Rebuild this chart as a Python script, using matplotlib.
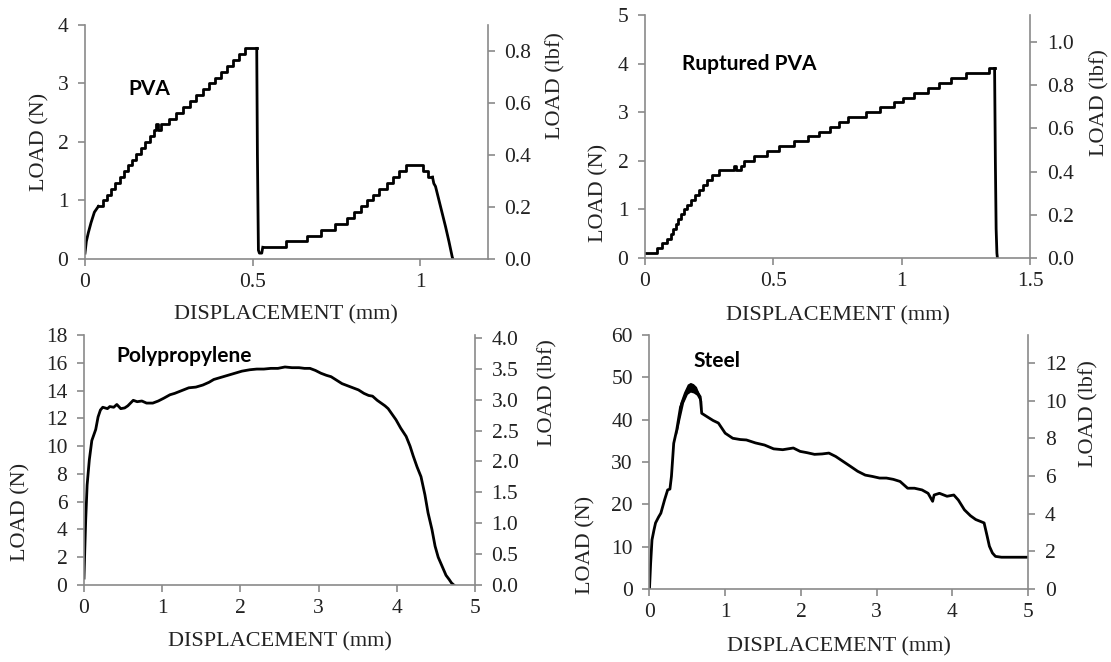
import matplotlib
matplotlib.use("Agg")
from matplotlib import pyplot as plt
from matplotlib.ticker import FuncFormatter

N_PER_LBF = 4.448
LINE_C = "black"
SPINE_C = "#8a8a8a"
TEXT_C = "#222222"

# ---- PVA (steps) ----
pva_ramp_x = [0.0, 0.004, 0.010, 0.018, 0.028, 0.040]
pva_ramp_y = [0.1, 0.30, 0.45, 0.62, 0.80, 0.90]
pva_stair1_x = [0.040, 0.054, 0.066, 0.078, 0.090, 0.103, 0.115, 0.128, 0.140, 0.153,
                0.166, 0.180, 0.193, 0.206, 0.213, 0.218, 0.228, 0.250, 0.272, 0.292,
                0.312, 0.332, 0.352, 0.370, 0.388, 0.406, 0.424, 0.442, 0.460, 0.478, 0.512]
pva_stair1_y = [0.9, 1.0, 1.1, 1.2, 1.3, 1.4, 1.5, 1.6, 1.7, 1.8,
                1.9, 2.0, 2.1, 2.2, 2.3, 2.2, 2.3, 2.4, 2.5, 2.6,
                2.7, 2.8, 2.9, 3.0, 3.1, 3.2, 3.3, 3.4, 3.5, 3.6, 3.6]
pva_drop_x = [0.512, 0.514, 0.517, 0.520, 0.527, 0.530]
pva_drop_y = [3.6, 1.8, 0.15, 0.10, 0.10, 0.20]
pva_stair2_x = [0.530, 0.600, 0.661, 0.703, 0.746, 0.780, 0.803, 0.822, 0.842, 0.859,
                0.877, 0.900, 0.917, 0.935, 0.956, 1.009, 1.024, 1.036]
pva_stair2_y = [0.2, 0.3, 0.4, 0.5, 0.6, 0.7, 0.8, 0.9, 1.0, 1.1,
                1.2, 1.3, 1.4, 1.5, 1.6, 1.5, 1.4, 1.4]
pva_tail_x = [1.036, 1.040, 1.045, 1.055, 1.065, 1.075, 1.085, 1.095, 1.097]
pva_tail_y = [1.4, 1.29, 1.24, 1.01, 0.78, 0.55, 0.30, 0.03, 0.0]

# ---- Ruptured PVA ----
rup_stair_x = [0.0, 0.045, 0.065, 0.085, 0.100, 0.110, 0.120, 0.130, 0.140, 0.150,
               0.165, 0.180, 0.195, 0.210, 0.225, 0.240, 0.260, 0.290, 0.345, 0.355,
               0.375, 0.385, 0.425, 0.475, 0.523, 0.579, 0.635, 0.677, 0.719, 0.754,
               0.789, 0.859, 0.915, 0.971, 1.005, 1.047, 1.104, 1.145, 1.194, 1.250,
               1.341, 1.362]
rup_stair_y = [0.1, 0.2, 0.3, 0.4, 0.5, 0.6, 0.7, 0.8, 0.9, 1.0,
               1.1, 1.2, 1.3, 1.4, 1.5, 1.6, 1.7, 1.8, 1.9, 1.8,
               1.9, 2.0, 2.1, 2.2, 2.3, 2.4, 2.5, 2.6, 2.7, 2.8,
               2.9, 3.0, 3.1, 3.2, 3.3, 3.4, 3.5, 3.6, 3.7, 3.8,
               3.9, 3.9]
rup_drop_x = [1.362, 1.365, 1.368, 1.371, 1.373]
rup_drop_y = [3.9, 2.0, 0.6, 0.1, 0.0]

# ---- Polypropylene ----
pp_x = [0.0, 0.01, 0.022, 0.04, 0.068, 0.10, 0.15, 0.18, 0.21, 0.24, 0.30, 0.33, 0.38,
        0.42, 0.47, 0.52, 0.56, 0.63, 0.68, 0.74, 0.80, 0.88, 0.95, 1.02, 1.10, 1.16,
        1.25, 1.34, 1.43, 1.52, 1.60, 1.66, 1.75, 1.84, 1.93, 2.02, 2.12, 2.21, 2.30,
        2.39, 2.48, 2.57, 2.66, 2.75, 2.82, 2.89, 2.96, 3.03, 3.10, 3.16, 3.23, 3.30,
        3.37, 3.44, 3.51, 3.58, 3.64, 3.69, 3.75, 3.80, 3.85, 3.89, 3.94, 3.99, 4.05,
        4.12, 4.17, 4.21, 4.26, 4.31, 4.36, 4.40, 4.45, 4.49, 4.53, 4.58, 4.63, 4.67,
        4.70, 4.73]
pp_y = [0.5, 2.5, 4.7, 7.2, 9.0, 10.4, 11.2, 12.1, 12.6, 12.8, 12.7, 12.85, 12.8,
        13.0, 12.7, 12.75, 12.9, 13.3, 13.2, 13.25, 13.1, 13.1, 13.25, 13.45, 13.7, 13.8,
        14.0, 14.2, 14.25, 14.4, 14.6, 14.8, 14.95, 15.1, 15.25, 15.4, 15.5, 15.55, 15.55,
        15.6, 15.6, 15.7, 15.65, 15.65, 15.6, 15.6, 15.45, 15.25, 15.1, 15.0, 14.75, 14.5,
        14.35, 14.2, 14.05, 13.8, 13.65, 13.6, 13.3, 13.1, 12.9, 12.7, 12.3, 11.9, 11.3,
        10.7, 10.0, 9.3, 8.5, 7.8, 6.5, 5.2, 4.0, 2.8, 2.0, 1.35, 0.7, 0.4,
        0.15, 0.0]

# ---- Steel ----
steel_x = [0.0, 0.015, 0.033, 0.06, 0.08, 0.12, 0.15, 0.20, 0.24, 0.27, 0.29, 0.32,
           0.36, 0.41, 0.48, 0.53, 0.58, 0.62, 0.67, 0.69, 0.76, 0.84, 0.91, 1.0,
           1.10, 1.20, 1.28, 1.40, 1.52, 1.64, 1.76, 1.90, 1.99, 2.08, 2.18, 2.28,
           2.37, 2.46, 2.56, 2.66, 2.75, 2.85, 2.94, 3.04, 3.13, 3.22, 3.31, 3.41,
           3.50, 3.60, 3.68, 3.74, 3.76, 3.83, 3.93, 4.02, 4.08, 4.16, 4.24, 4.31,
           4.38, 4.42, 4.46, 4.49, 4.53, 4.57, 4.65, 4.80, 5.0]
steel_y = [0.0, 6.0, 11.6, 14.0, 15.6, 17.0, 17.9, 21.1, 23.4, 23.6, 26.6, 34.4,
           37.6, 43.0, 46.0, 47.8, 47.5, 46.8, 45.4, 41.5, 40.7, 39.8, 39.2, 36.8,
           35.6, 35.3, 35.2, 34.5, 34.0, 33.1, 32.9, 33.3, 32.5, 32.2, 31.8, 31.9,
           32.1, 31.3, 30.1, 28.9, 27.8, 26.9, 26.6, 26.2, 26.2, 25.9, 25.4, 23.8,
           23.8, 23.4, 22.6, 20.7, 22.2, 22.6, 21.9, 22.2, 21.0, 18.7, 17.3, 16.4,
           15.9, 15.6, 12.5, 10.1, 8.5, 7.7, 7.5, 7.5, 7.5]
# thick noisy band around the peak
steel_band_x = [0.36, 0.40, 0.45, 0.50, 0.54, 0.58, 0.62, 0.66, 0.69]
steel_band_hi = [38.5, 44.0, 46.5, 48.4, 48.8, 48.5, 47.8, 46.0, 44.5]
steel_band_lo = [36.5, 40.0, 44.0, 46.0, 46.5, 46.3, 45.8, 44.5, 42.5]

plt.rcParams["font.family"] = "serif"
plt.rcParams["font.serif"] = ["Liberation Serif", "DejaVu Serif"]


def fmt_g(v, pos):
    return "{:g}".format(v)


def setup(fig, rect, xmax, xticks, ymax, yticks, lbf_ticks, lbf_fmt,
          lab_l, lab_r, lab_x):
    ax = fig.add_axes(rect)
    ax.set_xlim(0, xmax)
    ax.set_ylim(0, ymax)
    ax.set_xticks(xticks)
    ax.set_yticks(yticks)
    ax.xaxis.set_major_formatter(FuncFormatter(fmt_g))
    ax.spines["top"].set_visible(False)
    ax.spines["right"].set_visible(False)
    for s in ("left", "bottom"):
        ax.spines[s].set_color(SPINE_C)
        ax.spines[s].set_linewidth(1.2)
    ax.tick_params(axis="both", direction="out", length=5, width=1.2,
                   color=SPINE_C, labelsize=15.5, labelcolor=TEXT_C)
    ax.tick_params(axis="x", pad=5)
    ax.tick_params(axis="y", pad=7)

    ax2 = ax.twinx()
    ax2.set_ylim(0, ymax / N_PER_LBF)
    ax2.set_yticks(lbf_ticks)
    ax2.yaxis.set_major_formatter(FuncFormatter(lambda v, p: lbf_fmt % v))
    for s in ("top", "left", "bottom"):
        ax2.spines[s].set_visible(False)
    ax2.spines["right"].set_color(SPINE_C)
    ax2.spines["right"].set_linewidth(1.2)
    ax2.tick_params(axis="y", direction="out", length=5, width=1.2,
                    color=SPINE_C, labelsize=15.5, labelcolor=TEXT_C, pad=7)

    ax.set_xlabel("DISPLACEMENT (mm)", fontsize=16, color=TEXT_C)
    ax.set_ylabel("LOAD (N)", fontsize=16, color=TEXT_C)
    ax2.set_ylabel("LOAD (lbf)", fontsize=16, color=TEXT_C)
    ax.xaxis.set_label_coords(0.5, lab_x)
    ax.yaxis.set_label_coords(*lab_l)
    ax2.yaxis.set_label_coords(*lab_r)
    return ax


def title(fig, x, y, txt):
    fig.text(x, y, txt, fontsize=15, fontweight="bold", family=["Lato", "DejaVu Sans"],
             color="black", ha="left", va="baseline")


def main():
    fig = plt.figure(figsize=(11.11, 6.62), dpi=100)
    lw = 2.0

    # PVA
    ax = setup(fig, [0.0765, 0.6088, 0.3623, 0.3535], 1.2, [0, 0.5, 1], 4, [0, 1, 2, 3, 4],
               [0, 0.2, 0.4, 0.6, 0.8], "%.1f", (-0.089, 0.5), (1.145, 0.739), -0.197)
    ax.plot(pva_ramp_x, pva_ramp_y, color=LINE_C, lw=lw)
    ax.step(pva_stair1_x, pva_stair1_y, where="post", color=LINE_C, lw=lw)
    ax.plot(pva_drop_x, pva_drop_y, color=LINE_C, lw=lw)
    ax.step(pva_stair2_x, pva_stair2_y, where="post", color=LINE_C, lw=lw)
    ax.plot(pva_tail_x, pva_tail_y, color=LINE_C, lw=lw)
    title(fig, 0.1152, 0.8565, "PVA")

    # Ruptured PVA
    ax = setup(fig, [0.5806, 0.6103, 0.3465, 0.3671], 1.5, [0, 0.5, 1, 1.5], 5,
               [0, 1, 2, 3, 4, 5], [0, 0.2, 0.4, 0.6, 0.8, 1.0], "%.1f",
               (-0.094, 0.267), (1.156, 0.638), -0.198)
    ax.step(rup_stair_x, rup_stair_y, where="post", color=LINE_C, lw=lw)
    ax.plot(rup_drop_x, rup_drop_y, color=LINE_C, lw=lw)
    title(fig, 0.6139, 0.8943, "Ruptured PVA")

    # Polypropylene
    ax = setup(fig, [0.0756, 0.1163, 0.3519, 0.3776], 5, [0, 1, 2, 3, 4, 5], 18,
               list(range(0, 19, 2)), [0, 0.5, 1, 1.5, 2, 2.5, 3, 3.5, 4], "%.1f",
               (-0.138, 0.292), (1.161, 0.768), -0.188)
    ax.plot(pp_x, pp_y, color=LINE_C, lw=lw)
    title(fig, 0.1044, 0.4532, "Polypropylene")

    # Steel
    ax = setup(fig, [0.5846, 0.1103, 0.3407, 0.3837], 5, [0, 1, 2, 3, 4, 5], 60,
               [0, 10, 20, 30, 40, 50, 60], [0, 2, 4, 6, 8, 10, 12], "%d",
               (-0.142, 0.173), (1.135, 0.689), -0.189)
    ax.plot(steel_x, steel_y, color=LINE_C, lw=lw)
    ax.fill_between(steel_band_x, steel_band_lo, steel_band_hi, color=LINE_C, lw=0)
    title(fig, 0.6238, 0.4456, "Steel")

    fig.savefig("out.png", dpi=100)


if __name__ == "__main__":
    main()
